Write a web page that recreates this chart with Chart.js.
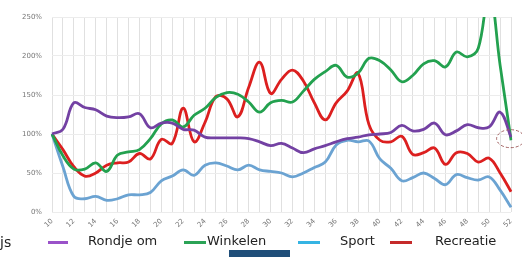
<!DOCTYPE html>
<html>
<head>
<meta charset="utf-8">
<script src="https://cdn.jsdelivr.net/npm/chart.js@4"></script>
<style>
  body { margin: 0; background: #fff; }
  #wrap { position: relative; width: 522px; height: 257px; overflow: hidden; font-family: "DejaVu Sans", sans-serif; }
  #myChart { position: absolute; left: 0; top: 0; }
  .lg-line { position: absolute; height: 3px; }
  .lg-text { position: absolute; font-size: 13px; line-height: 16px; color: #222; white-space: nowrap; }
  #blueBox { position: absolute; left: 229px; top: 250px; width: 61px; height: 7px; background: #1f4e79; }
</style>
</head>
<body>
<div id="wrap">
  <canvas id="myChart" width="522" height="257"></canvas>
  <div class="lg-text" style="left:0;top:234px;font-size:14px">js</div>
  <div id="legend"></div>
  <div id="blueBox"></div>
</div>
<script>
const weeks = [10, 11, 12, 13, 14, 15, 16, 17, 18, 19, 20, 21, 22, 23, 24, 25, 26, 27, 28, 29, 30, 31,
  32, 33, 34, 35, 36, 37, 38, 39, 40, 41, 42, 43, 44, 45, 46, 47, 48, 49, 50, 51, 52];
const yTicks = [0, 50, 100, 150, 200, 250];

const rondjeOm = [100, 106, 140, 134, 131, 123, 121, 122, 126, 108, 114, 114, 106, 105, 96, 95, 95, 95, 94, 90, 85, 88,
  82, 76, 81, 85, 90, 94, 96, 99, 100, 102, 111, 104, 106, 114, 99, 104, 112, 108, 109, 128, 96];
const winkelen = [100, 72, 55, 55, 63, 52, 73, 77, 80, 94, 113, 118, 109, 124, 133, 147, 153, 151, 141, 128, 140, 143,
  141, 155, 170, 180, 188, 173, 178, 197, 194, 182, 167, 175, 190, 194, 186, 205, 199, 210, 285, 188, 92];
const sport = [100, 58, 20, 17, 20, 15, 17, 22, 22, 25, 40, 46, 54, 47, 60, 63, 59, 54, 60, 54, 52, 50,
  45, 50, 57, 64, 86, 92, 90, 91, 68, 56, 40, 44, 50, 43, 35, 48, 44, 41, 45, 28, 6];
const recreatie = [100, 80, 58, 46, 50, 60, 63, 64, 75, 68, 93, 88, 133, 90, 115, 148, 145, 122, 160, 192, 152, 170,
  182, 168, 140, 118, 140, 155, 178, 112, 92, 90, 97, 74, 76, 82, 61, 76, 75, 64, 69, 50, 26];

const seriesNames = ['Rondje om', 'Winkelen', 'Sport', 'Recreatie'];
const lineColors = ['#7341a3', '#23a14f', '#6ba3d2', '#dc1f1f'];
const legendColors = ['#9a52c9', '#2ba356', '#35b4e3', '#c52a2a'];
const legendLineX = [48, 184, 298, 390];
const legendLineW = [20, 22, 22, 22];
const legendTextX = [88, 207, 340, 435];

// dashed ellipse near the last point
const ellipsePlugin = {
  id: 'ellipse',
  afterDatasetsDraw(chart) {
    const x = chart.scales.x, y = chart.scales.y;
    const c = chart.ctx;
    const cx = (x.getPixelForValue(41) + x.getPixelForValue(42)) / 2 + 5;
    const cy = y.getPixelForValue(94);
    c.save();
    c.strokeStyle = '#a06060';
    c.lineWidth = 1;
    c.setLineDash([3, 2]);
    c.beginPath();
    c.ellipse(cx, cy, 14, 9, 0, 0, Math.PI * 2);
    c.stroke();
    c.restore();
  }
};

const ctx = document.getElementById('myChart').getContext('2d');
const chart = new Chart(ctx, {
  type: 'line',
  data: {
    labels: weeks,
    datasets: [rondjeOm, winkelen, sport, recreatie].map(function(d, i) {
      return {
        label: seriesNames[i],
        data: d,
        borderColor: lineColors[i],
        backgroundColor: lineColors[i],
        borderWidth: 2.8,
        pointRadius: 0,
        tension: 0.4
      };
    })
  },
  options: {
    responsive: false,
    animation: false,
    layout: { padding: { top: 17, right: 7, left: 0, bottom: 0 } },
    plugins: { legend: { display: false }, tooltip: { enabled: false } },
    scales: {
      x: {
        offset: false,
        grid: { color: '#e0e0e0', lineWidth: 1, drawTicks: false },
        border: { display: false },
        afterFit: function(s) { s.height = 45; },
        ticks: {
          autoSkip: false,
          maxRotation: 45,
          minRotation: 45,
          padding: 5,
          color: '#777',
          font: { family: 'DejaVu Sans', size: 7 },
          callback: function(v, i) { return weeks[i] % 2 === 0 ? String(weeks[i]) : ''; }
        }
      },
      y: {
        min: 0,
        max: 250,
        afterFit: function(s) { s.width = 52; },
        afterBuildTicks: function(s) { s.ticks = yTicks.map(function(v) { return { value: v }; }); },
        grid: { color: '#ececec', lineWidth: 1, drawTicks: false },
        border: { display: false },
        ticks: {
          padding: 10,
          color: '#777',
          font: { family: 'DejaVu Sans', size: 7 },
          callback: function(v) { return v + '%'; }
        }
      }
    }
  },
  plugins: [ellipsePlugin]
});

const legend = document.getElementById('legend');
seriesNames.forEach(function(name, i) {
  const line = document.createElement('div');
  line.className = 'lg-line';
  line.style.left = legendLineX[i] + 'px';
  line.style.top = '241px';
  line.style.width = legendLineW[i] + 'px';
  line.style.background = legendColors[i];
  legend.appendChild(line);
  const txt = document.createElement('div');
  txt.className = 'lg-text';
  txt.style.left = legendTextX[i] + 'px';
  txt.style.top = '233px';
  txt.textContent = name;
  legend.appendChild(txt);
});
</script>
</body>
</html>
